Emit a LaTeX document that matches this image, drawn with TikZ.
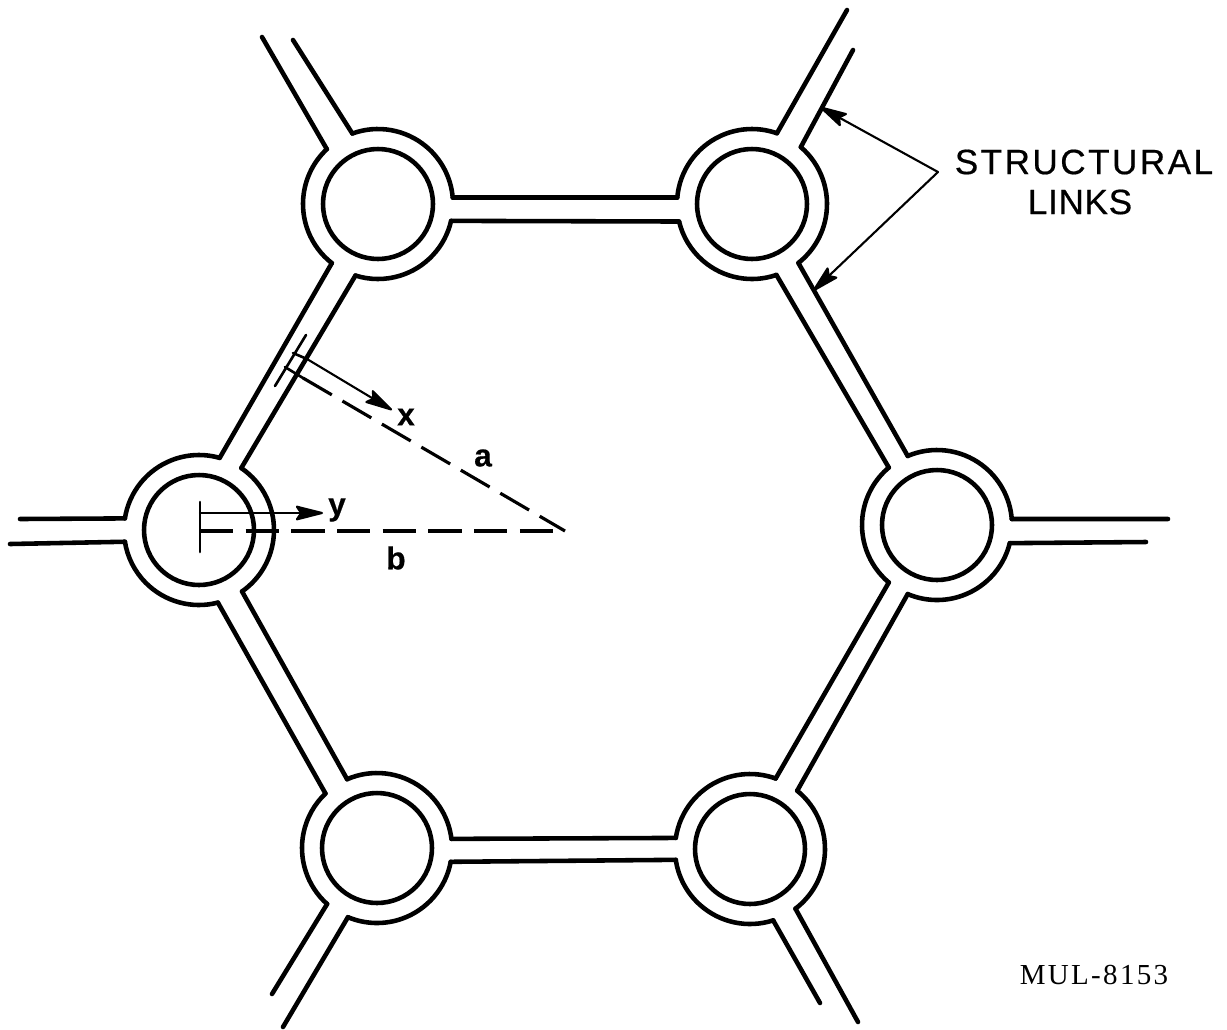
\documentclass[tikz,border=0pt]{standalone}
\usepackage{fontspec}
\usetikzlibrary{calc,arrows.meta}
\newfontfamily\leroy[LetterSpace=7,FakeBold=0.5]{Liberation Sans}
\newfontfamily\leroylinks[LetterSpace=2,FakeBold=0.5]{Liberation Sans}
\newfontfamily\platefont[LetterSpace=8]{Liberation Serif}
\tikzset{
    hub/.style={circle, draw, line width=2.6pt, minimum size=2.2cm, inner sep=0pt, outer sep=0pt},
    wall/.style={line width=2.6pt, line cap=round, line join=round},
    thin wall/.style={line width=1.5pt, line cap=round},
    gap/.style={line width=1.8pt, dash pattern={on 19pt off 7pt}},
    pointer/.style={line width=1.2pt, line cap=round, -{Stealth[length=18pt, width=9pt, inset=3pt, round]}},
    lettering/.style={font=\leroy\fontsize{20}{20}\selectfont, inner sep=0pt},
    symbol/.style={font=\leroy\bfseries\fontsize{18}{18}\selectfont, inner sep=0pt}
}
\begin{document}
\begin{tikzpicture}[x=0.02cm, y=-0.02cm]
    \useasboundingbox (0,0) rectangle (1227,1029);
    \node[hub] (hubTL) at (378,204) {};
    \node[hub] (hubTR) at (752,204) {};
    \node[hub] (hubR) at (937,525) {};
    \node[hub] (hubBR) at (750,849) {};
    \node[hub] (hubBL) at (377,848) {};
    \node[hub] (hubL) at (199,530) {};
    % rims, broken where the links join
    \foreach \h/\s/\e in {hubTL/250/355, hubTL/13/107.5, hubTL/128/227,
            hubTR/185/289.4, hubTR/310.6/411.8, hubTR/71/166.5,
            hubR/247/355.4, hubR/14/113, hubR/130/230,
            hubBR/188.5/290, hubBR/309/412.7, hubBR/72/171.7,
            hubBL/246.5/353, hubBL/10.6/112.8, hubBL/131.7/226.6,
            hubL/188.9/286, hubL/304.3/415, hubL/75.4/171}
        \draw[wall] ($(\h)+(\s:75)$) arc[start angle=\s, end angle=\e, radius=75];
    % links between the hubs
    \foreach \p/\a/\q/\b in {hubTL/355/hubTR/185, hubTL/13/hubTR/166.5,
            hubTR/71/hubR/230, hubTR/51.8/hubR/247,
            hubR/113/hubBR/309, hubR/130/hubBR/290,
            hubBR/188.5/hubBL/353, hubBR/171.7/hubBL/10.6,
            hubBL/226.6/hubL/75.4, hubBL/246.5/hubL/55,
            hubL/286/hubTL/128, hubL/304.3/hubTL/107.5}
        \draw[wall] ($(\p)+(\a:75)$) -- ($(\q)+(\b:75)$);
    % stubs running off the ring
    \foreach \h/\a/\n/\x/\y in {hubTL/227/endA/262/37, hubTL/250/endB/293/40,
            hubTR/289.4/endC/847/10, hubTR/310.6/endD/853/50,
            hubR/355.4/endE/1168/519, hubR/14/endF/1146/542,
            hubBR/72/endG/820/1003, hubBR/52.7/endH/858/1022,
            hubBL/131.7/endI/272/994, hubBL/112.8/endJ/283/1027,
            hubL/188.9/endK/20/519, hubL/171/endM/10/544} {
        \coordinate (\n) at (\x,\y);
        \draw[wall] ($(\h)+(\a:75)$) -- (\n);
    }
    % section through the link, radial distances
    \coordinate (apex) at (565,531);
    \coordinate (secA) at (306,335);
    \coordinate (secB) at (275,386);
    \coordinate (secC) at (293,353);
    \coordinate (secD) at (307,359);
    \coordinate (secE) at (285,367);
    \coordinate (secF) at (303,378);
    \coordinate (tickA) at (200,502);
    \coordinate (tickB) at (200,552);
    \coordinate (tickC) at (200,531);
    \coordinate (tickD) at (200,513);
    \coordinate (tipX) at (392,410);
    \coordinate (tipY) at (323,513);
    \coordinate (forkS) at (938,172);
    \coordinate (tipS) at (820,107);
    \coordinate (tipT) at (813,291);
    \draw[thin wall] (secA) -- (secB);
    \draw[thin wall] (secC) -- (secD);
    \draw[thin wall] (secE) -- (secF);
    \draw[thin wall] (tickA) -- (tickB);
    \draw[gap] (secF) -- (apex);
    \draw[gap] (tickC) -- (apex);
    \draw[pointer] (secD) -- (tipX);
    \draw[pointer] (tickD) -- (tipY);
    \draw[pointer] (forkS) -- (tipS);
    \draw[pointer] (forkS) -- (tipT);
    \node[symbol] (labX) at (406,417) {x};
    \node[symbol] (labY) at (337,510) {y};
    \node[symbol] (labA) at (483,458) {a};
    \node[symbol] (labB) at (396,558) {b};
    \node[lettering] (labS) at (1084,162) {STRUCTURAL};
    \node[lettering, font=\leroylinks\fontsize{20}{20}\selectfont] (labL) at (1080,202) {LINKS};
    \node[font=\platefont\fontsize{16.5}{16.5}\selectfont, inner sep=0pt] (labM) at (1094,975) {MUL-8153};
\end{tikzpicture}
\end{document}
